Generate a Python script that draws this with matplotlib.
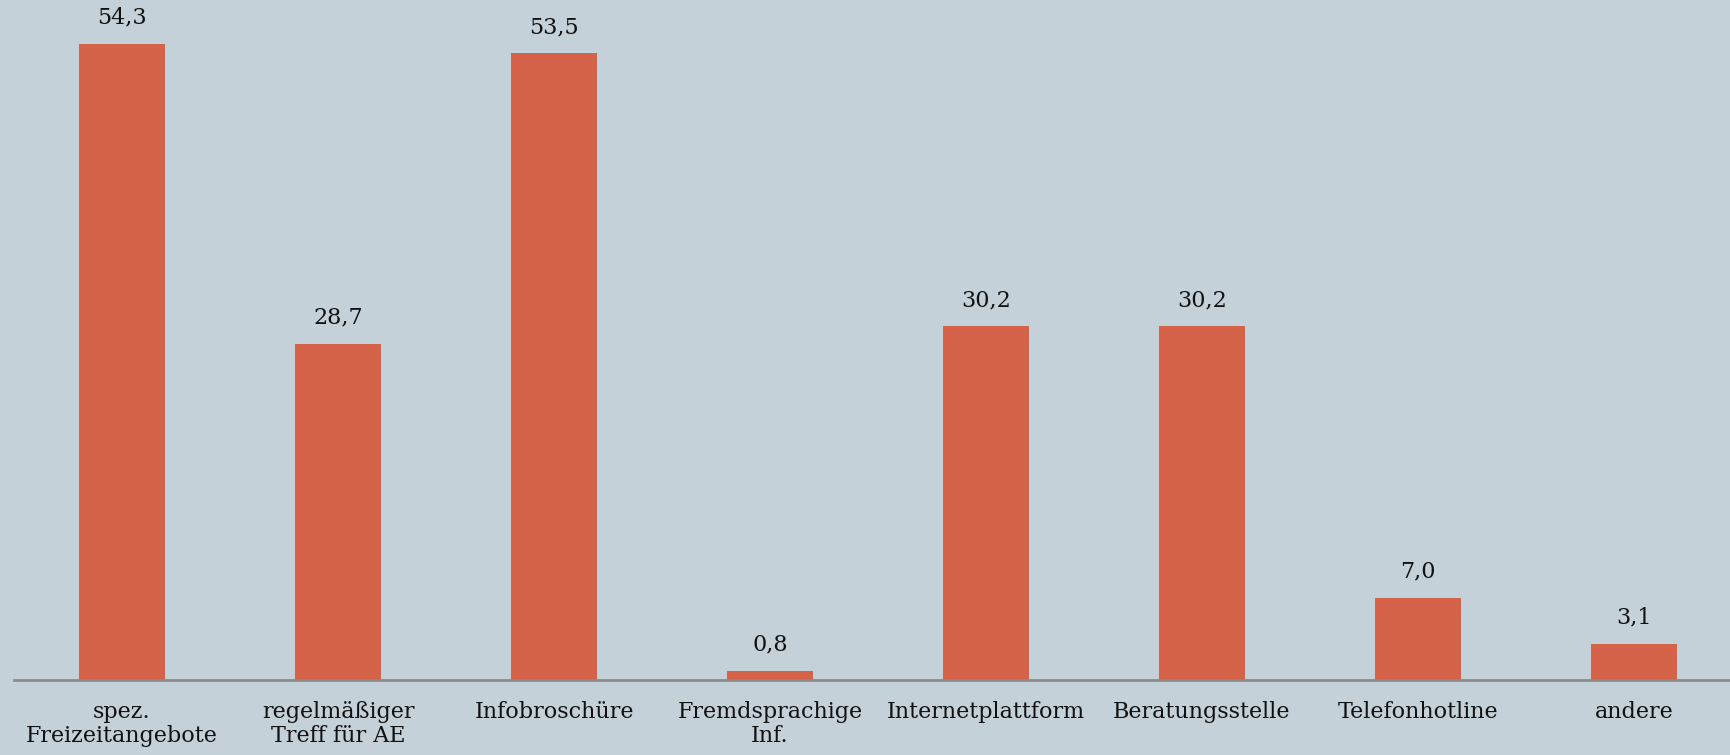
import matplotlib.pyplot as plt

# ---------- data ----------
categories = [
    "spez.\nFreizeitangebote",
    "regelmäßiger\nTreff für AE",
    "Infobroschüre",
    "Fremdsprachige\nInf.",
    "Internetplattform",
    "Beratungsstelle",
    "Telefonhotline",
    "andere",
]
values = [54.3, 28.7, 53.5, 0.8, 30.2, 30.2, 7.0, 3.1]

# ---------- style ----------
bg = "#c5d1d8"
bar_color = "#d4634a"
axis_color = "#8c8c8c"
font = "DejaVu Serif"

fig = plt.figure(figsize=(17.31, 7.55), dpi=100)
fig.patch.set_facecolor(bg)
# axes: bottom at 680px from top, 8 slots of 216px starting at x=14
ax = fig.add_axes([14 / 1731, 75 / 755, 1728 / 1731, 680 / 755])
ax.set_facecolor(bg)

x = range(len(categories))
bars = ax.bar(x, values, width=0.4, color=bar_color, zorder=2)
ax.bar_label(
    bars,
    labels=[f"{v:.1f}".replace(".", ",") for v in values],
    padding=11,
    fontsize=16,
    family=font,
    color="#111111",
)

ax.set_xlim(-0.5, 7.5)
ax.set_ylim(0, 680 / 11.713)
ax.set_xticks(list(x))
ax.set_xticklabels(categories, fontsize=16, family=font, color="#111111",
                   linespacing=1.15)
ax.tick_params(axis="x", length=0, pad=15)
ax.set_yticks([])

for s in ["top", "right", "left"]:
    ax.spines[s].set_visible(False)
ax.spines["bottom"].set_color(axis_color)
ax.spines["bottom"].set_linewidth(2)

fig.savefig("out.png", dpi=100, facecolor=bg)
